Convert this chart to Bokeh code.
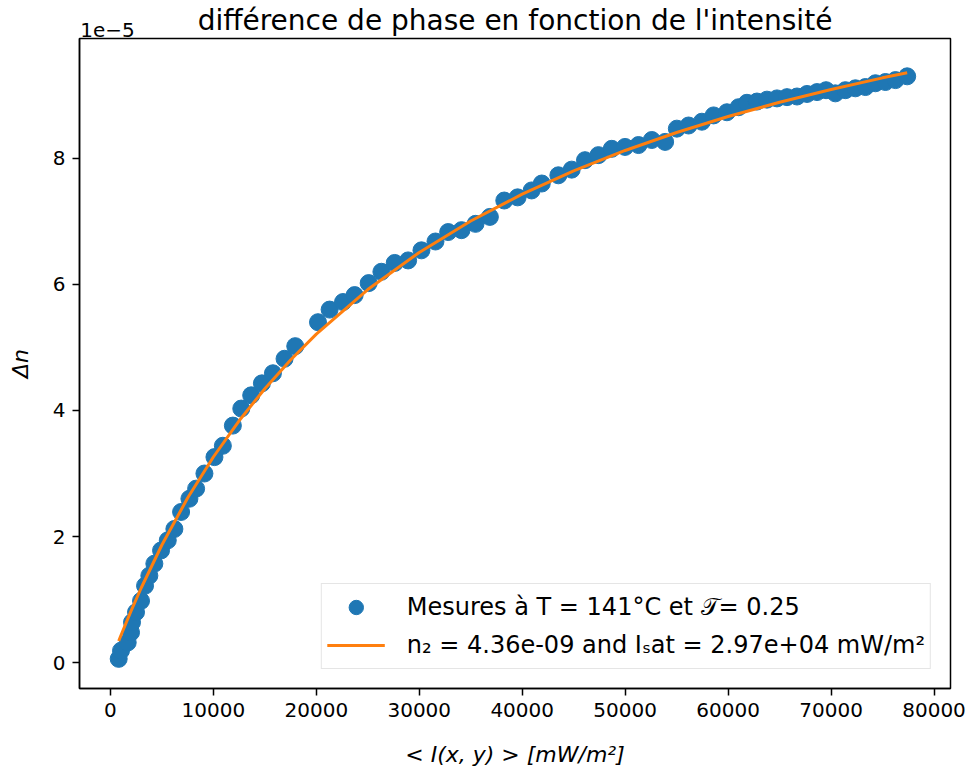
from bokeh.plotting import figure
from bokeh.models import (Range1d, FixedTicker, NumeralTickFormatter, LinearAxis,
                          Legend, LegendItem)
from bokeh.embed import file_html
from bokeh.resources import INLINE

# ---- data ----
# intensity <I(x,y)> in mW/m^2
intensity = [807, 1031, 1683, 2004, 2101, 2490, 2977, 3366, 3784, 4270,
             4922, 5574, 6216, 6868, 7675, 8327, 9134, 10107, 10924, 11897,
             12714, 13677, 14718, 15788, 16916, 17957, 20165, 21294, 22597, 23726,
             25088, 26323, 27617, 28920, 30214, 31576, 32811, 34105, 35467, 36858,
             38259, 39553, 40914, 41900, 43512, 44805, 46099, 47403, 48696, 49990,
             51294, 52588, 53881, 55019, 56158, 57451, 58589, 59883, 61021, 61829,
             62802, 63774, 64747, 65720, 66693, 67665, 68638, 69514, 70418, 71391,
             72364, 73337, 74309, 75282, 76255, 77393]
# delta n in units of 1e-5
delta_n = [0.06, 0.19, 0.32, 0.48, 0.64, 0.80, 0.98, 1.22, 1.38, 1.57,
           1.78, 1.94, 2.12, 2.39, 2.60, 2.76, 3.00, 3.26, 3.44, 3.76,
           4.03, 4.24, 4.43, 4.59, 4.82, 5.02, 5.40, 5.60, 5.72, 5.83,
           6.02, 6.20, 6.34, 6.38, 6.54, 6.68, 6.83, 6.86, 6.96, 7.07,
           7.33, 7.38, 7.49, 7.60, 7.73, 7.82, 7.97, 8.05, 8.15, 8.18,
           8.21, 8.29, 8.26, 8.47, 8.52, 8.58, 8.68, 8.73, 8.81, 8.88,
           8.90, 8.93, 8.95, 8.97, 8.98, 9.02, 9.05, 9.08, 9.03, 9.08,
           9.11, 9.13, 9.19, 9.21, 9.24, 9.30]

# fitted curve
fit_intensity = [807, 1000, 2000, 3000, 5000, 7500, 10000, 12500, 15000, 17500,
                 20000, 25000, 30000, 35000, 40000, 45000, 50000, 55000, 60000,
                 65000, 70000, 75000, 77393]
fit_delta_n = [0.343, 0.422, 0.817, 1.188, 1.866, 2.611, 3.262, 3.836, 4.345, 4.801,
               5.211, 5.918, 6.507, 7.005, 7.431, 7.801, 8.124, 8.409, 8.662,
               8.888, 9.092, 9.276, 9.358]

x_ticks = [0, 10000, 20000, 30000, 40000, 50000, 60000, 70000, 80000]
y_ticks = [0, 2, 4, 6, 8]

title_text = "différence de phase en fonction de l'intensité"
label_points = "Mesures à T = 141°C et 𝒯= 0.25"
label_fit = "n₂ = 4.36e-09 and Iₛat = 2.97e+04 mW/m²"
offset_text = "1e−5"

FONT = "DejaVu Sans"
X_MIN, X_MAX = -3000, 81600
Y_MIN, Y_MAX = -0.41, 9.9
FRAME_W = 967 - 79 - 17

p = figure(width=967, height=772, output_backend="svg", toolbar_location=None,
           x_range=Range1d(X_MIN, X_MAX), y_range=Range1d(Y_MIN, Y_MAX),
           min_border_left=79, min_border_right=17, min_border_top=37,
           min_border_bottom=84, background_fill_color="white",
           border_fill_color="white")

p.grid.visible = False
p.outline_line_color = "black"
p.outline_line_width = 1.5
p.outline_line_alpha = 1.0

for ax in (p.xaxis[0], p.yaxis[0]):
    ax.major_label_text_font = FONT
    ax.major_label_text_font_size = "20px"
    ax.major_label_text_color = "black"
    ax.major_tick_out = 7
    ax.major_tick_in = 0
    ax.minor_tick_out = 0
    ax.minor_tick_in = 0
    ax.major_tick_line_width = 1.5
    ax.axis_line_width = 1.5
    ax.major_label_standoff = 7
    ax.axis_label_text_font = FONT
    ax.axis_label_text_font_size = "22px"
    ax.axis_label_text_font_style = "italic"
    ax.axis_label_text_color = "black"

p.xaxis.ticker = FixedTicker(ticks=x_ticks)
p.xaxis.formatter = NumeralTickFormatter(format="0")
p.yaxis.ticker = FixedTicker(ticks=y_ticks)
p.yaxis.formatter = NumeralTickFormatter(format="0")
p.xaxis.axis_label = "< I(x, y) > [mW/m²]"
p.yaxis.axis_label = "Δn"
p.xaxis.axis_label_standoff = 22
p.yaxis.axis_label_standoff = 17

# top axis: carries the "1e−5" offset text (as a tick label) and the title (as its label)
offset_anchor = X_MIN + (X_MAX - X_MIN) * 28 / FRAME_W
top_axis = LinearAxis(ticker=FixedTicker(ticks=[offset_anchor]),
                      major_label_overrides={offset_anchor: offset_text},
                      axis_line_color=None, major_tick_line_color=None,
                      minor_tick_line_color=None, major_tick_in=0, major_tick_out=0,
                      minor_tick_in=0, minor_tick_out=0, major_label_standoff=2,
                      major_label_text_font=FONT, major_label_text_font_size="20px",
                      major_label_text_color="black",
                      axis_label=title_text, axis_label_text_font=FONT,
                      axis_label_text_font_size="28px",
                      axis_label_text_font_style="normal",
                      axis_label_text_color="black", axis_label_standoff=-17)
p.add_layout(top_axis, "above")

r_pts = p.scatter(intensity, delta_n, size=17, color="#1f77b4")
r_fit = p.line(fit_intensity, fit_delta_n, line_width=3, color="#ff7f0e")

legend = Legend(items=[LegendItem(label=label_points, renderers=[r_pts]),
                       LegendItem(label=label_fit, renderers=[r_fit])],
                location="bottom_right")
legend.label_text_font = FONT
legend.label_text_font_size = "24px"
legend.label_text_color = "black"
legend.border_line_color = "#cccccc"
legend.border_line_width = 1.5
legend.background_fill_alpha = 0.8
legend.glyph_width = 58
legend.glyph_height = 36
legend.label_standoff = 22
legend.spacing = 2
legend.padding = 5
legend.margin = 19
p.add_layout(legend)

open("out.html", "w").write(file_html(p, INLINE))
